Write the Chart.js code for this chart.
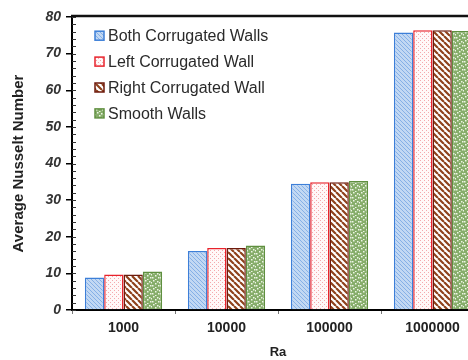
<!DOCTYPE html>
<html>
<head>
<meta charset="utf-8">
<script src="https://cdn.jsdelivr.net/npm/chart.js@4/dist/chart.umd.min.js"></script>
<style>
  html, body { margin: 0; padding: 0; background: #fff; overflow: hidden; }
  #wrap { width: 490px; height: 360px; }
</style>
</head>
<body>
<div id="wrap"><canvas id="nuChart" width="490" height="360"></canvas></div>
<script>
// Data
const categories = ['1000', '10000', '100000', '1000000'];
const seriesNames = ['Both Corrugated Walls', 'Left Corrugated Wall', 'Right Corrugated Wall', 'Smooth Walls'];
const bothWalls = [8.9, 16.1, 34.5, 75.8];
const leftWall = [9.7, 16.9, 34.9, 76.4];
const rightWall = [9.7, 16.9, 34.9, 76.4];
const smoothWalls = [10.5, 17.6, 35.2, 76.2];
const yTicks = [0, 10, 20, 30, 40, 50, 60, 70, 80];

const FONT = "'Liberation Sans', Arial, sans-serif";

// small helper to build canvas fill patterns
function makePattern(size, draw) {
    const c = document.createElement('canvas');
    c.width = size; c.height = size;
    const g = c.getContext('2d');
    draw(g, size);
    return g.createPattern(c, 'repeat');
}

function diagonal(g, s) {
    g.beginPath();
    g.moveTo(0, 0); g.lineTo(s, s);
    g.moveTo(-s, 0); g.lineTo(0, s);
    g.moveTo(s, 0); g.lineTo(2 * s, s);
    g.stroke();
}

const bluePattern = makePattern(4, function(g, s) {
    g.fillStyle = '#c2d8f3';
    g.fillRect(0, 0, s, s);
    g.strokeStyle = '#86b0e6';
    g.lineWidth = 1;
    diagonal(g, s);
});

const redPattern = makePattern(4, function(g, s) {
    g.fillStyle = '#fff8f8';
    g.fillRect(0, 0, s, s);
    g.fillStyle = '#f4a9ad';
    g.fillRect(0, 0, 1, 1);
    g.fillRect(2, 2, 1, 1);
});

const brownPattern = makePattern(6, function(g, s) {
    g.fillStyle = '#ffffff';
    g.fillRect(0, 0, s, s);
    g.strokeStyle = '#8f421c';
    g.lineWidth = 2.2;
    diagonal(g, s);
});

const greenPattern = makePattern(8, function(g, s) {
    g.fillStyle = '#86ad6a';
    g.fillRect(0, 0, s, s);
    g.fillStyle = '#eef5e6';
    [[1, 0], [5, 1], [3, 3], [0, 5], [6, 5], [3, 7], [7, 2]].forEach(function(p) {
        g.fillRect(p[0], p[1], 1.5, 1.5);
    });
});

// inside legend, vertical, top-left of the plot
const insideLegend = {
    id: 'insideLegend',
    afterDraw(chart) {
        const ctx = chart.ctx;
        const x = 95, y0 = 35.7, step = 25.9;
        ctx.save();
        ctx.font = '16px ' + FONT;
        ctx.textBaseline = 'middle';
        chart.data.datasets.forEach(function(ds, i) {
            const y = y0 + i * step;
            ctx.fillStyle = ds.backgroundColor;
            ctx.fillRect(x, y - 4.5, 9, 9);
            ctx.strokeStyle = ds.borderColor;
            ctx.lineWidth = 1.5;
            ctx.strokeRect(x, y - 4.5, 9, 9);
            ctx.fillStyle = '#2a2a2a';
            ctx.fillText(ds.label, x + 13, y + 1);
        });
        ctx.restore();
    }
};

// top frame line and minor ticks on the value axis
const frameAndMinor = {
    id: 'frameAndMinor',
    afterDraw(chart) {
        const ctx = chart.ctx;
        const a = chart.chartArea;
        const ys = chart.scales.y;
        ctx.save();
        ctx.strokeStyle = '#111';
        ctx.lineWidth = 2.5;
        ctx.beginPath();
        ctx.moveTo(a.left - 1, a.top - 1);
        ctx.lineTo(a.right, a.top - 1);
        ctx.stroke();
        ctx.lineWidth = 1;
        ctx.strokeStyle = '#333';
        for (let v = 0; v <= 80; v += 2) {
            const py = Math.round(ys.getPixelForValue(v)) + 0.5;
            ctx.beginPath();
            ctx.moveTo(a.left, py);
            ctx.lineTo(a.left + 4, py);
            ctx.stroke();
        }
        ctx.restore();
    }
};

const ctx = document.getElementById('nuChart').getContext('2d');

new Chart(ctx, {
    type: 'bar',
    data: {
        labels: categories,
        datasets: [
            { label: seriesNames[0], data: bothWalls, backgroundColor: bluePattern, borderColor: '#3d7fd8', borderWidth: 1.5 },
            { label: seriesNames[1], data: leftWall, backgroundColor: redPattern, borderColor: '#e8232c', borderWidth: 1.5 },
            { label: seriesNames[2], data: rightWall, backgroundColor: brownPattern, borderColor: '#6e1a0c', borderWidth: 1.5 },
            { label: seriesNames[3], data: smoothWalls, backgroundColor: greenPattern, borderColor: '#5f8f3f', borderWidth: 1.5 }
        ]
    },
    options: {
        responsive: false,
        animation: false,
        layout: { padding: { left: 0, right: 6, top: 17, bottom: 0 } },
        datasets: { bar: { categoryPercentage: 0.75, barPercentage: 1.0 } },
        scales: {
            x: {
                grid: { drawOnChartArea: false, offset: true, tickLength: 4, color: '#777', lineWidth: 1 },
                border: { color: '#000', width: 2 },
                ticks: { color: '#222', font: { family: FONT, size: 14, weight: 'bold' }, padding: 6 },
                title: { display: true, text: 'Ra', color: '#222', font: { family: FONT, size: 13, weight: 'bold' }, padding: { top: 0, bottom: 0 } },
                afterFit(scale) { scale.height = 50; }
            },
            y: {
                min: 0,
                max: 80,
                afterBuildTicks(scale) { scale.ticks = yTicks.map(v => ({ value: v })); },
                grid: { drawOnChartArea: false, tickLength: 6, color: '#000', lineWidth: 1.5 },
                border: { color: '#000', width: 2 },
                ticks: { color: '#333', font: { family: FONT, size: 14, weight: 'bold', style: 'italic' }, padding: 5 },
                title: { display: true, text: 'Average Nusselt Number', color: '#222', font: { family: FONT, size: 15, weight: 'bold' }, padding: { top: 10, bottom: 0 } },
                afterFit(scale) { scale.width = 72; }
            }
        },
        plugins: {
            legend: { display: false },
            tooltip: { enabled: false }
        }
    },
    plugins: [insideLegend, frameAndMinor]
});
</script>
</body>
</html>
